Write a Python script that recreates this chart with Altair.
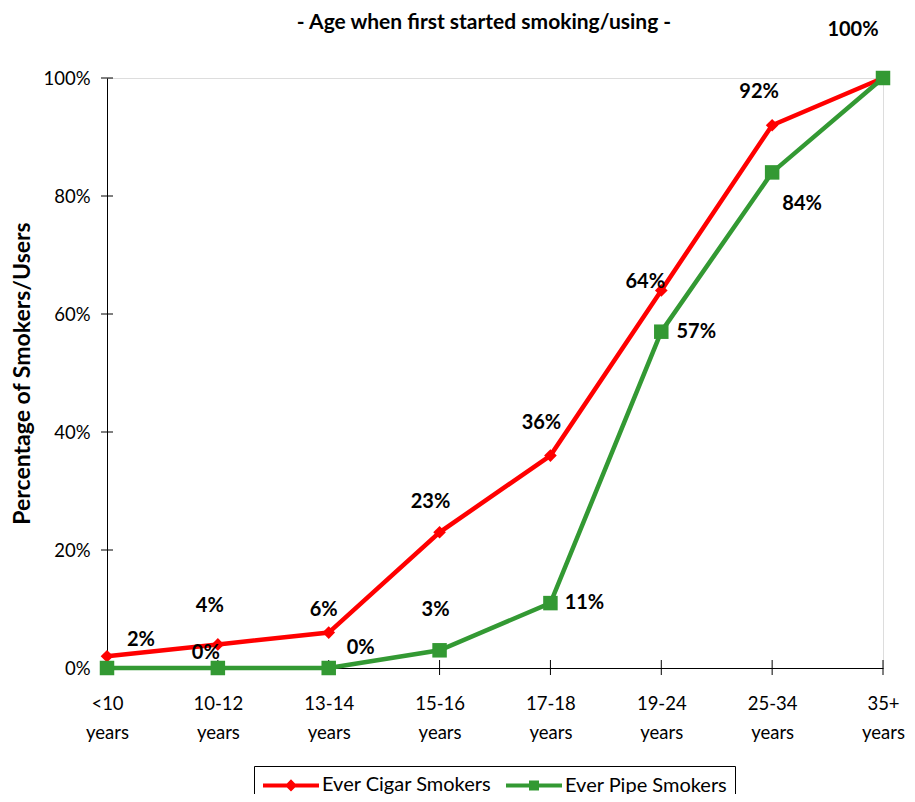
import altair as alt
import pandas as pd

categories = ["<10 years", "10-12 years", "13-14 years", "15-16 years",
              "17-18 years", "19-24 years", "25-34 years", "35+ years"]
cigar = [2, 4, 6, 23, 36, 64, 92, 100]
pipe = [0, 0, 0, 3, 11, 57, 84, 100]
series_names = ["Ever Cigar Smokers", "Ever Pipe Smokers"]
y_ticks = [0, 20, 40, 60, 80, 100]

FONT = "Lato"
RED = "#FF0000"
GREEN = "#339933"
W, H = 776, 590
PAD_L, PAD_T = 99, 70

rows = []
for name, vals in zip(series_names, [cigar, pipe]):
    for i, (c, v) in enumerate(zip(categories, vals)):
        rows.append({"series": name, "cat": c, "value": v, "idx": i,
                     "label": f"{v}%"})
df = pd.DataFrame(rows)

# label placements: (series index, category index, dx, dy)
placements = [
    (0, 0, 34, -16), (0, 1, -8, -38), (0, 2, -5, -23), (0, 3, -9, -30),
    (0, 4, -9, -33), (0, 5, -16, -8), (0, 6, -13, -33), (0, 7, -30, -48),
    (1, 1, -12, -15), (1, 2, 32, -20), (1, 3, -4, -40), (1, 4, 34, 0),
    (1, 5, 35, 0), (1, 6, 30, 32),
]

xenc = alt.X("cat:N", sort=categories,
             scale=alt.Scale(type="point", padding=0),
             axis=alt.Axis(title=None, labelExpr="split(datum.label, ' ')",
                           labelFont=FONT, labelFontSize=18.5, labelColor="black",
                           labelPadding=35, labelLineHeight=29, ticks=False,
                           tickSize=0, domainColor="black", domainWidth=1,
                           labelAngle=0, labelAlign="center", labelFlush=False,
                           labelOverlap=False, grid=False))
yenc = alt.Y("value:Q", scale=alt.Scale(domain=[0, 100], nice=False, zero=True),
             axis=alt.Axis(title="Percentage of Smokers/Users", values=y_ticks,
                           labelExpr="datum.value + '%'", labelFont=FONT,
                           labelFontSize=18.5, labelColor="black", labelPadding=17,
                           ticks=False, tickSize=0, domainColor="black",
                           grid=False, titleFont=FONT, titleFontSize=23,
                           titleFontWeight="bold", titleColor="black",
                           titleX=-85, titleY=H / 2, titleAngle=270,
                           titleBaseline="middle", titleAlign="center"))

diamond_path = "M-1,0H4.6M1.8,-0.32L2.12,0L1.8,0.32L1.48,0Z"
square_path = "M-1,0H4.6M1.5,-0.3H2.1V0.3H1.5Z"

color_scale = alt.Scale(domain=series_names, range=[RED, GREEN])

legend = alt.Legend(
    title=None, orient="none", legendX=147, legendY=688, direction="horizontal",
    strokeColor="black", fillColor="white", padding=7, labelFont=FONT,
    labelFontSize=20, labelColor="black", symbolSize=400, symbolStrokeWidth=4,
    labelOffset=37, columnPadding=6, symbolOpacity=1, labelLimit=400,
)

base = alt.Chart(df)
marker_shapes = ["diamond", "square"]
marker_sizes = [160, 210]
colors = [RED, GREEN]

layers = []
tick_df = pd.DataFrame({"v": y_ticks})
layers.append(alt.Chart(tick_df).mark_rule(color="black", strokeWidth=1).encode(
    y=alt.Y("v:Q", scale=alt.Scale(domain=[0, 100], nice=False)),
    x=alt.value(-6), x2=alt.value(6),
))
xtick_df = pd.DataFrame({"cat": categories})
layers.append(alt.Chart(xtick_df).mark_rule(color="black", strokeWidth=1).encode(
    x=alt.X("cat:N", sort=categories, scale=alt.Scale(type="point", padding=0)),
    y=alt.value(H - 8), y2=alt.value(H + 7),
))

for si, name in enumerate(series_names):
    layers.append(
        base.transform_filter(alt.datum.series == name)
        .mark_line(strokeWidth=4.5, color=colors[si])
        .encode(x=xenc, y=yenc, order="idx:Q")
    )
for si, name in enumerate(series_names):
    layers.append(
        base.transform_filter(alt.datum.series == name)
        .mark_point(filled=True, opacity=1, shape=marker_shapes[si],
                    size=marker_sizes[si], color=colors[si])
        .encode(x=xenc, y=yenc)
    )

# legend-only layer (no visible data)
layers.append(
    base.transform_filter("false").mark_point(filled=True, opacity=1, strokeWidth=4)
    .encode(
        color=alt.Color("series:N", scale=color_scale, legend=legend),
        stroke=alt.Stroke("series:N", scale=color_scale, legend=legend),
        shape=alt.Shape("series:N", scale=alt.Scale(domain=series_names,
                                                    range=[diamond_path, square_path]),
                        legend=legend),
    )
)

for si, ci, dx, dy in placements:
    layers.append(
        base.mark_text(font=FONT, fontSize=20, fontWeight="bold", color="black",
                       dx=dx, dy=dy, align="center", baseline="middle")
        .encode(x=xenc, y=yenc, text="label:N")
        .transform_filter(
            (alt.datum.series == series_names[si]) & (alt.datum.idx == ci))
    )

chart = alt.layer(*layers).properties(
    width=W, height=H,
    title=alt.TitleParams("- Age when first started smoking/using -", font=FONT,
                          fontSize=21, fontWeight="bold", color="black",
                          anchor="middle", frame="group", offset=0, dy=13, dx=-11),
    autosize=alt.AutoSizeParams(type="none"),
    padding={"left": PAD_L, "top": PAD_T, "right": 899 - PAD_L - W, "bottom": 126},
).configure_view(stroke=None).configure(background="white")

chart.save("out.html", embed_options={"renderer": "svg", "actions": False})
